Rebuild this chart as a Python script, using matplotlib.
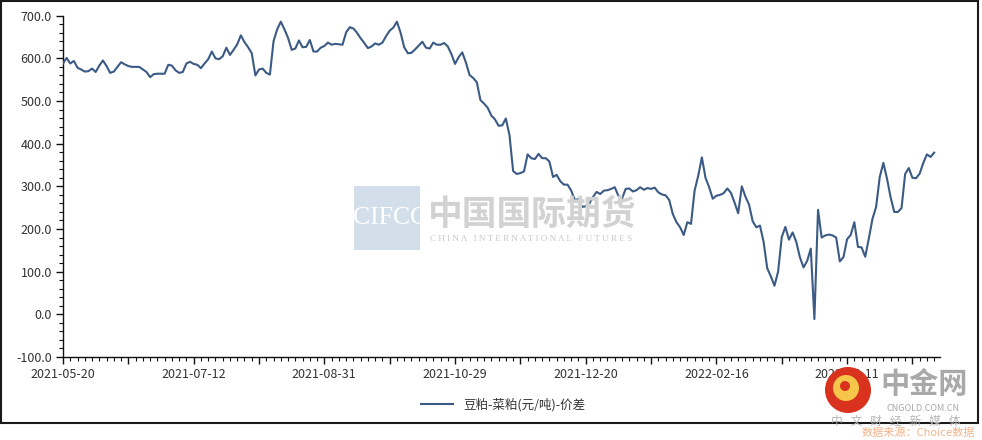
import matplotlib as mpl
mpl.use('Agg')
import matplotlib.pyplot as plt
from matplotlib.patches import Rectangle, Ellipse
from matplotlib.ticker import MultipleLocator, FixedLocator, FixedFormatter, FormatStrFormatter
import numpy as np

plt.rcParams['font.family'] = ['Noto Sans CJK SC', 'DejaVu Sans']

# x tick labels (one every 36 trading days)
tick_dates = ['2021-05-20', '2021-07-12', '2021-08-31', '2021-10-29',
              '2021-12-20', '2022-02-16', '2022-04-11']
series_name = '豆粕-菜粕(元/吨)-价差'

# daily spread
spread = [
    588, 601, 588, 594, 578, 574, 569, 570, 576, 568,
    583, 595, 582, 566, 569, 580, 591, 586, 582, 580,
    580, 580, 574, 568, 556, 563, 564, 564, 564, 585,
    583, 572, 566, 568, 588, 592, 587, 585, 577, 588,
    598, 616, 600, 598, 605, 625, 608, 620, 633, 654,
    638, 626, 612, 560, 574, 576, 566, 562, 640, 668,
    686, 668,
    648, 620, 623, 642, 626, 627, 643, 616, 616, 625,
    629, 637, 632, 634, 633, 632, 661, 673, 670, 660,
    647, 636, 624, 628, 635, 632, 637, 652, 665, 672,
    686, 660, 626, 612, 613, 621, 630, 639, 625, 623,
    637, 632, 632, 636, 628, 610, 587, 603, 614, 590,
    561, 554, 544, 502, 494, 484, 466, 457, 442, 443,
    459, 420, 336, 329, 331, 335, 375, 366, 364, 376,
    366, 366, 358, 322, 327, 312, 304, 304, 290, 268,
    270, 252, 253, 260, 275, 287, 282, 290, 291, 294,
    298, 278, 271, 294, 295, 288, 291, 298, 292, 296,
    294, 297, 286, 281, 279, 268, 235, 216, 204, 186,
    216, 212, 290, 325, 368, 320, 298, 271, 278, 280,
    284, 295, 285, 262, 237, 300, 276, 257, 218, 204,
    208, 170, 108, 89, 67, 100, 181, 205, 175, 192,
    170, 134, 110, 125, 154, -11, 245, 180, 185, 187,
    185, 180, 124, 134, 176, 186, 216, 158, 157, 135,
    178, 224, 252, 322, 355, 318, 274, 240, 240, 249,
    329, 343, 320, 319, 330, 355, 375, 369, 379,
]

W, H = 982, 440
fig = plt.figure(figsize=(W / 100, H / 100), dpi=100)
fig.patch.set_facecolor('white')

def fx(px):
    return px / W

def fy(py):
    return 1 - py / H

# outer frame
fig.patches.append(Rectangle((fx(1), fy(423)), fx(977), 422 / H, transform=fig.transFigure,
                             fill=False, edgecolor='#1a1a1a', linewidth=1.5))

# CIFCO watermark (behind the line)
fig.patches.append(Rectangle((fx(354), fy(250)), fx(66), 64 / H, transform=fig.transFigure,
                             facecolor='#d3deeb', edgecolor='none', zorder=0))
fig.text(fx(391), fy(218), 'CIFCO', family='Liberation Serif', fontsize=18.5,
         color='white', ha='center', va='center', zorder=0.5)
fig.text(fx(532), fy(214), '中国国际期货', fontsize=25, fontweight='bold',
         color='#d2d2d2', ha='center', va='center', zorder=0.5)
fig.text(fx(531), fy(239), 'C H I N A   I N T E R N A T I O N A L   F U T U R E S',
         family='Liberation Serif', fontsize=6.6, color='#cacaca',
         ha='center', va='center', zorder=0.5)

ax = fig.add_axes([fx(63), fy(357), fx(940 - 63), (357 - 15.7) / H])
ax.set_facecolor('none')
x = np.arange(len(spread))
ax.plot(x, spread, color='#3b5b85', linewidth=1.5, label=series_name, zorder=3)

ax.set_xlim(0, 241.6)
ax.set_ylim(-100, 700)
ax.yaxis.set_major_locator(MultipleLocator(100))
ax.yaxis.set_minor_locator(MultipleLocator(20))
ax.yaxis.set_major_formatter(FormatStrFormatter('%.1f'))
ax.xaxis.set_major_locator(FixedLocator(np.arange(0, 242, 18)))
ax.xaxis.set_minor_locator(MultipleLocator(2))
labels = []
for k in range(len(np.arange(0, 242, 18))):
    labels.append(tick_dates[k // 2] if k % 2 == 0 and k // 2 < len(tick_dates) else '')
ax.xaxis.set_major_formatter(FixedFormatter(labels))

for s in ['top', 'right']:
    ax.spines[s].set_visible(False)
for s in ['left', 'bottom']:
    ax.spines[s].set_color('#111111')
    ax.spines[s].set_linewidth(1.0)
ax.tick_params(which='major', length=5, width=1, color='#111111', labelsize=9,
               labelcolor='#333333')
ax.tick_params(which='minor', length=3, width=0.8, color='#111111')
ax.tick_params(axis='y', pad=3)
ax.tick_params(axis='x', pad=3)

fig.legend(loc='center', bbox_to_anchor=(fx(503), fy(405)), frameon=False, fontsize=9,
           handlelength=2.6, labelcolor='#333333')

# CNGOLD watermark (bottom right, on top)
fig.patches.append(Ellipse((fx(848), fy(390)), 46 / W, 46 / H, transform=fig.transFigure,
                           facecolor='#d9321f', edgecolor='none', zorder=5))
fig.patches.append(Ellipse((fx(846), fy(388)), 26 / W, 26 / H, transform=fig.transFigure,
                           facecolor='#f6c64a', edgecolor='none', zorder=6))
fig.patches.append(Ellipse((fx(845), fy(386)), 10 / W, 10 / H, transform=fig.transFigure,
                           facecolor='#d9321f', edgecolor='none', zorder=7))
fig.text(fx(924), fy(384), '中金网', fontsize=21, fontweight='bold', color='#a9a9a9',
         ha='center', va='center', zorder=8)
fig.text(fx(923), fy(408), 'CNGOLD.COM.CN', fontsize=6.5, color='#a9a9a9',
         ha='center', va='center', zorder=8)
fig.text(fx(896), fy(421), '中   文   财   经   新   媒   体', fontsize=8.5, color='#b5b5b5',
         ha='center', va='center', zorder=8)
fig.text(fx(918), fy(433), '数据来源：Choice数据', fontsize=8, color='#f3b48c',
         ha='center', va='center', zorder=8)

fig.savefig('out.png', dpi=100)
